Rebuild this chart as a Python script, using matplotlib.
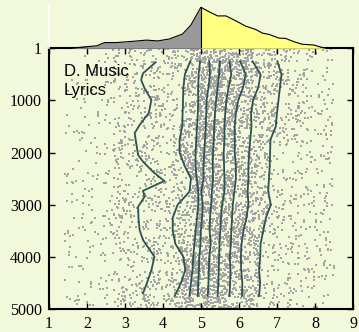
"""
Music lyrics: rating per rank with decile lines and a top marginal profile.
"""
import numpy as np
import matplotlib; matplotlib.use("Agg")
import matplotlib.pyplot as plt

plt.rcParams["font.family"] = ["Liberation Serif", "DejaVu Serif"]

BG = "#f2f8da"
LINE = "#2f5252"
DOT = "#a4a4a4"

# ranks at which deciles 2..9 were read
GRID_Y = [250, 500, 750, 1000, 1250, 1500, 1750, 2000, 2250, 2500,
          2750, 3000, 3250, 3500, 3750, 4000, 4250, 4500, 4750]

# first decile has sharper bends, read on its own ranks
D1_Y = [270, 480, 609, 768, 993, 1242, 1472, 1626, 1817, 2047, 2176, 2368,
        2546, 2732, 2847, 3039, 3256, 3486, 3678, 3998, 4253, 4445, 4700]
D1_X = [3.81, 3.48, 3.43, 3.52, 3.70, 3.63, 3.39, 3.26, 3.30, 3.35, 3.48, 3.74,
        4.04, 3.48, 3.52, 3.35, 3.36, 3.39, 3.48, 3.78, 3.70, 3.61, 3.48]

D2 = [4.72, 4.58, 4.54, 4.53, 4.52, 4.51, 4.44, 4.44, 4.57, 4.74,
      4.70, 4.39, 4.26, 4.26, 4.33, 4.54, 4.59, 4.48, 4.31]
D3 = [4.98, 4.94, 4.93, 4.93, 4.92, 4.90, 4.88, 4.86, 4.86, 4.89,
      4.93, 4.93, 4.90, 4.86, 4.83, 4.80, 4.78, 4.74, 4.70]
D4 = [5.22, 5.24, 5.20, 5.15, 5.14, 5.13, 5.11, 5.09, 5.07, 5.07,
      5.01, 5.05, 5.03, 5.00, 4.99, 4.96, 4.95, 4.93, 4.92]
D5 = [5.50, 5.48, 5.44, 5.40, 5.37, 5.35, 5.34, 5.32, 5.31, 5.32,
      5.29, 5.27, 5.24, 5.23, 5.26, 5.22, 5.21, 5.20, 5.18]
D6 = [5.75, 5.80, 5.73, 5.67, 5.64, 5.62, 5.62, 5.60, 5.61, 5.62,
      5.62, 5.56, 5.53, 5.51, 5.49, 5.48, 5.47, 5.46, 5.44]
D7 = [6.03, 6.18, 6.11, 5.98, 5.92, 5.89, 5.89, 5.89, 5.92, 5.92,
      5.88, 5.84, 5.82, 5.80, 5.79, 5.76, 5.78, 5.77, 5.75]
D8 = [6.36, 6.57, 6.51, 6.37, 6.32, 6.33, 6.30, 6.27, 6.25, 6.25,
      6.23, 6.25, 6.20, 6.12, 6.07, 6.05, 6.06, 6.09, 6.08]
D9 = [7.01, 7.12, 7.08, 7.04, 7.00, 6.97, 6.83, 6.82, 6.81, 6.79,
      6.77, 6.84, 6.71, 6.64, 6.57, 6.56, 6.53, 6.56, 6.53]

# outer tails of the dot cloud: (quantile level, rating)
TAIL_LO = [(0.0, 1.4), (0.03, 2.7)]
TAIL_HI = [(0.97, 7.8), (1.0, 8.5)]
N_SONGS = 5000

# top marginal profile (relative height)
MARG_X = [1.56, 2.0, 2.26, 2.47, 2.78, 3.21, 3.57, 3.87, 4.18, 4.52, 4.74, 5.0,
          5.22, 5.44, 5.66, 5.92, 6.18, 6.44, 6.62, 6.79, 7.05, 7.23, 7.45,
          7.66, 7.97, 8.15, 8.28]
MARG_H = [0, 0.04, 0.06, 0.14, 0.14, 0.17, 0.20, 0.18, 0.23, 0.35, 0.57, 1.0,
          0.89, 0.79, 0.79, 0.67, 0.54, 0.46, 0.37, 0.34, 0.25, 0.24, 0.16,
          0.10, 0.08, 0.03, 0]

X_TICKS = [1, 2, 3, 4, 5, 6, 7, 8, 9]
Y_TICKS = [1, 1000, 2000, 3000, 4000, 5000]
LABEL = "D. Music\nLyrics"

fig = plt.figure(figsize=(3.59, 3.32), dpi=100, facecolor=BG)
ax = fig.add_axes([0.1357, 0.0693, 0.8476, 0.7852], facecolor=BG)
axm = fig.add_axes([0.1357, 0.8545, 0.8476, 0.1304], sharex=ax)
axm.patch.set_visible(False)

# dots: one per rank, placed at a quantile level (quadratic Weyl sequence)
# of the deciles read at that rank
ranks = np.arange(1, N_SONGS + 1)
u = (ranks.astype(float) ** 2 * 0.6180339887498949) % 1.0
levels = [l for l, _ in TAIL_LO] + [0.1 * i for i in range(1, 10)] + [l for l, _ in TAIL_HI]
cols = [np.full(N_SONGS, v) for _, v in TAIL_LO]
cols.append(np.interp(ranks, D1_Y, D1_X))
for d in (D2, D3, D4, D5, D6, D7, D8, D9):
    cols.append(np.interp(ranks, GRID_Y, d))
cols += [np.full(N_SONGS, v) for _, v in TAIL_HI]
Q = np.vstack(cols)
dot_x = np.array([np.interp(u[k], levels, Q[:, k]) for k in range(N_SONGS)])
ax.scatter(dot_x, ranks, s=0.55, marker="s", color=DOT, linewidths=0, zorder=1)

ax.plot(D1_X, D1_Y, color=LINE, lw=1.3, zorder=3)
for d in (D2, D3, D4, D5, D6, D7, D8, D9):
    ax.plot(d, GRID_Y, color=LINE, lw=1.3, zorder=3)

ax.set_xlim(1, 9)
ax.set_ylim(N_SONGS, 1)
ax.set_xticks(X_TICKS)
ax.set_yticks(Y_TICKS)
ax.tick_params(direction="in", length=4, width=1, top=True, right=True,
               labelsize=11.5, pad=5)
for s in ax.spines.values():
    s.set_linewidth(1.5)
ax.text(0.05, 0.938, LABEL, transform=ax.transAxes, ha="left", va="top",
        fontsize=12, family="Liberation Sans", linespacing=1.3)

mx = np.array(MARG_X); mh = np.array(MARG_H)
left = mx <= 5.0
right = mx >= 5.0
axm.fill_between(mx[left], 0, mh[left], color="#999999", lw=0)
axm.fill_between(mx[right], 0, mh[right], color="#ffff80", lw=0)
axm.plot(mx, mh, color="black", lw=0.8)
axm.plot([5, 5], [0, 1.0], color="black", lw=0.8)
axm.set_ylim(0, 1.056)
for k in ("top", "right", "bottom"):
    axm.spines[k].set_visible(False)
axm.spines["left"].set_color("white")
axm.spines["left"].set_linewidth(1.2)
axm.tick_params(left=False, bottom=False, labelleft=False, labelbottom=False)

fig.savefig("out.png", dpi=100, facecolor=BG)
